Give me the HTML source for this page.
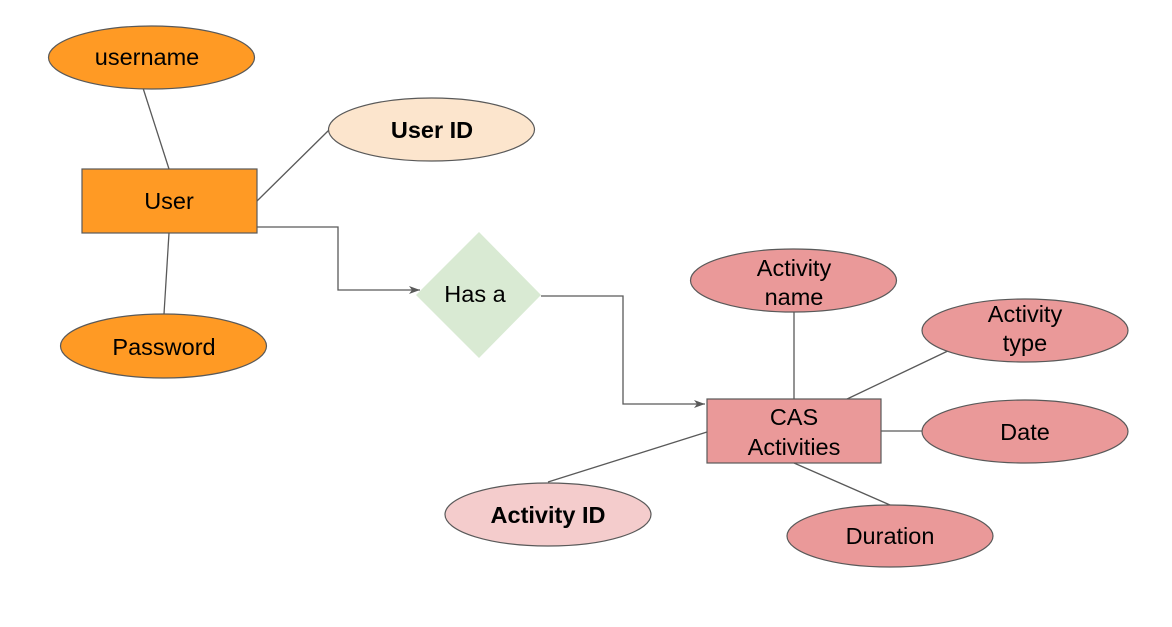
<!DOCTYPE html>
<html><head><style>body{margin:0;background:#fff}</style></head><body>
<svg width="1172" height="622" xmlns="http://www.w3.org/2000/svg" font-family="Liberation Sans, Arial, sans-serif" font-size="23.5">
<rect width="1172" height="622" fill="#fff"/>
<defs><marker id="a" markerWidth="12" markerHeight="10" refX="11" refY="5" orient="auto" markerUnits="userSpaceOnUse"><path d="M0,1 L11,5 L0,9 L3,5 Z" fill="#595959"/></marker></defs>
<g stroke="#595959" stroke-width="1.3" fill="none">
<line x1="143" y1="88" x2="169" y2="169"/>
<line x1="329" y1="130" x2="257" y2="201"/>
<line x1="169" y1="233" x2="164" y2="314"/>
<polyline points="257,227 338,227 338,290 420,290" marker-end="url(#a)"/>
<polyline points="541,296 623,296 623,404 705,404" marker-end="url(#a)"/>
<line x1="794" y1="312" x2="794" y2="399"/>
<line x1="952" y1="349" x2="845" y2="400"/>
<line x1="881" y1="431" x2="922" y2="431"/>
<line x1="548" y1="482" x2="707" y2="432"/>
<line x1="794" y1="463" x2="890" y2="505"/>
</g>
<g stroke="#595959" stroke-width="1.2">
<ellipse cx="151.5" cy="57.5" rx="103" ry="31.5" fill="#ff9a24"/>
<ellipse cx="431.5" cy="129.5" rx="103" ry="31.5" fill="#fce5cd"/>
<rect x="82" y="169" width="175" height="64" fill="#ff9a24"/>
<ellipse cx="163.5" cy="346" rx="103" ry="32" fill="#ff9a24"/>
<ellipse cx="793.5" cy="280.5" rx="103" ry="31.5" fill="#ea9999"/>
<ellipse cx="1025" cy="330.5" rx="103" ry="31.5" fill="#ea9999"/>
<ellipse cx="1025" cy="431.5" rx="103" ry="31.5" fill="#ea9999"/>
<rect x="707" y="399" width="174" height="64" fill="#ea9999"/>
<ellipse cx="548" cy="514.5" rx="103" ry="31.5" fill="#f4cccc"/>
<ellipse cx="890" cy="536" rx="103" ry="31" fill="#ea9999"/>
</g>
<polygon points="479,232 541,295 479,358 416,295" fill="#d9ead3"/>
<g fill="#000" text-anchor="middle">
<text x="147" y="65">username</text>
<text x="432" y="138" font-weight="bold">User ID</text>
<text x="169" y="209">User</text>
<text x="164" y="355">Password</text>
<text x="475" y="302">Has a</text>
<text x="794" y="276">Activity</text><text x="794" y="305">name</text>
<text x="1025" y="322">Activity</text><text x="1025" y="351">type</text>
<text x="1025" y="440">Date</text>
<text x="794" y="425">CAS</text><text x="794" y="455">Activities</text>
<text x="548" y="523" font-weight="bold">Activity ID</text>
<text x="890" y="544">Duration</text>
</g>
</svg>
</body></html>
